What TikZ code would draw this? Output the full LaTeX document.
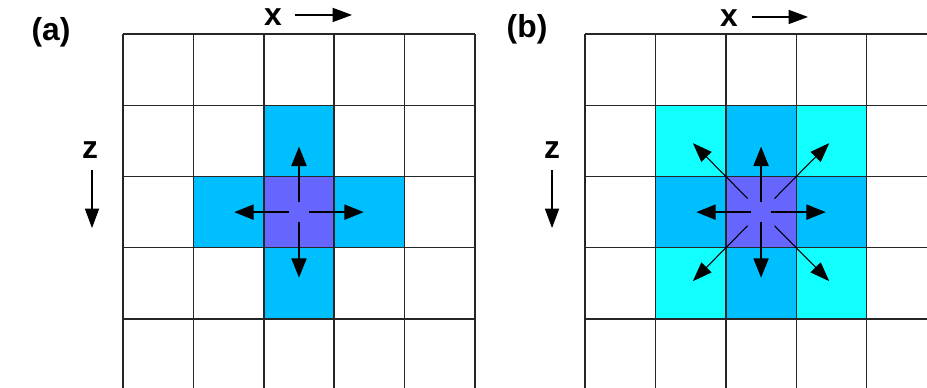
\documentclass[tikz,border=0pt]{standalone}
\usepackage{fontspec}
\setmainfont{Liberation Sans}
\usetikzlibrary{arrows.meta,calc}
\definecolor{cellblue}{RGB}{0,191,255}
\definecolor{cellcore}{RGB}{102,102,255}
\definecolor{cellcyan}{RGB}{17,255,255}

\begin{document}
\begin{tikzpicture}[x=1.4cm,y=1.417cm,
    gridline/.style={line width=0.8pt,black!85},
    flow/.style={line width=1.2pt,-{Triangle[length=11pt,width=8.5pt]}},
    diag/.style={line width=0.6pt,-{Triangle[length=11pt,width=8pt]}},
    axis/.style={line width=0.7pt,-{Triangle[length=11pt,width=8pt]}},
    lbl/.style={font=\fontsize{18}{20}\selectfont\bfseries,inner sep=0pt}
]
\useasboundingbox (-1.747,-4.954) rectangle (11.42,0.477);
\clip (-1.747,-4.954) rectangle (11.42,0.477);

% panel (a): cross stencil
\fill[cellblue] (2,-1) rectangle (3,-2);
\fill[cellblue] (1,-2) rectangle (2,-3);
\fill[cellblue] (3,-2) rectangle (4,-3);
\fill[cellblue] (2,-3) rectangle (3,-4);
\fill[cellcore] (2,-2) rectangle (3,-3);
\foreach \i in {0,...,5}
    \draw[gridline] (\i,0) -- (\i,-5);
\foreach \j in {0,...,4}
    \draw[gridline] (0,-\j) -- (5,-\j);
\coordinate (ca) at (2.5,-2.5);
\foreach \a in {0,90,180,270}
    \draw[flow] ($(ca)+(\a:0.14)$) -- ($(ca)+(\a:0.92)$);

% panel (b): full stencil
\begin{scope}[shift={(6.563,0)}]
\fill[cellcyan] (1,-1) rectangle (2,-2);
\fill[cellcyan] (3,-1) rectangle (4,-2);
\fill[cellcyan] (1,-3) rectangle (2,-4);
\fill[cellcyan] (3,-3) rectangle (4,-4);
\fill[cellblue] (2,-1) rectangle (3,-2);
\fill[cellblue] (1,-2) rectangle (2,-3);
\fill[cellblue] (3,-2) rectangle (4,-3);
\fill[cellblue] (2,-3) rectangle (3,-4);
\fill[cellcore] (2,-2) rectangle (3,-3);
\foreach \i in {0,...,5}
    \draw[gridline] (\i,0) -- (\i,-5);
\foreach \j in {0,...,4}
    \draw[gridline] (0,-\j) -- (5,-\j);
\coordinate (cb) at (2.5,-2.5);
\foreach \a in {45,135,225,315}
    \draw[diag] ($(cb)+(\a:0.27)$) -- ($(cb)+(\a:1.37)$);
\foreach \a in {0,90,180,270}
    \draw[flow] ($(cb)+(\a:0.14)$) -- ($(cb)+(\a:0.92)$);
\end{scope}

% labels and axes
\node[lbl] (tagA) at (-1.023,0.028) {(a)};
\node[lbl] (tagB) at (5.739,0.070) {(b)};

\node[lbl] (xA) at (2.131,0.232) {x};
\coordinate (xA0) at (2.443,0.267);
\coordinate (xA1) at (3.253,0.267);
\draw[axis] (xA0) -- (xA1);

\node[lbl] (xB) at (8.608,0.225) {x};
\coordinate (xB0) at (8.935,0.239);
\coordinate (xB1) at (9.730,0.239);
\draw[axis] (xB0) -- (xB1);

\node[lbl] (zA) at (-0.469,-1.628) {z};
\coordinate (zA0) at (-0.440,-1.909);
\coordinate (zA1) at (-0.440,-2.723);
\draw[axis] (zA0) -- (zA1);

\node[lbl] (zB) at (6.094,-1.628) {z};
\coordinate (zB0) at (6.094,-1.909);
\coordinate (zB1) at (6.094,-2.723);
\draw[axis] (zB0) -- (zB1);

\end{tikzpicture}
\end{document}
